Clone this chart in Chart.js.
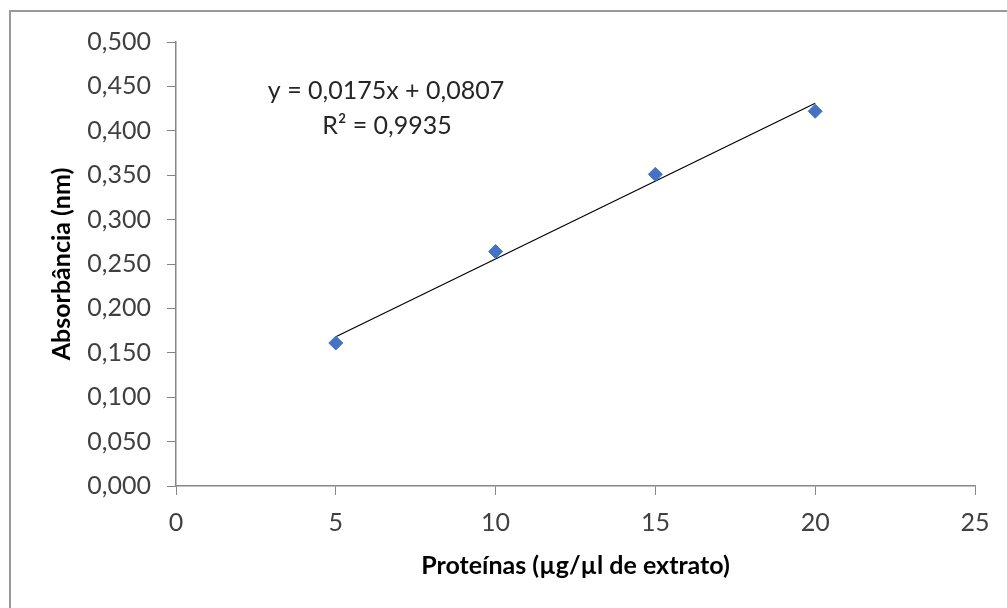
<!DOCTYPE html>
<html>
<head>
<meta charset="utf-8">
<script src="https://cdn.jsdelivr.net/npm/chart.js@4.4.0/dist/chart.umd.min.js"></script>
<style>
    body { margin: 0; background: #fff; }
    #frame { position: absolute; left: 9px; top: 10px; width: 1100px; height: 700px; border-left: 2px solid #999; border-top: 2px solid #999; }
    #wrap { position: absolute; left: 0; top: 0; width: 1007px; height: 608px; }
</style>
</head>
<body>
<div id="frame"></div>
<div id="wrap"><canvas id="chart"></canvas></div>
<script>
const proteinas = [5, 10, 15, 20];
const absorbancia = [0.161, 0.264, 0.351, 0.422];
const trendX = [5, 20];
const trendY = [0.168, 0.431];
const yTickLabels = ["0,000", "0,050", "0,100", "0,150", "0,200", "0,250", "0,300", "0,350", "0,400", "0,450", "0,500"];
const xTickLabels = ["0", "5", "10", "15", "20", "25"];
const equation = ["y = 0,0175x + 0,0807", "R² = 0,9935"];

const font = "Lato";
const axisGray = "#868686";

// equation label of the trendline
const equationLabel = {
    id: "equationLabel",
    afterDatasetsDraw(chart) {
        const ctx = chart.ctx;
        ctx.save();
        ctx.fillStyle = "#262626";
        ctx.font = "25px " + font;
        ctx.textAlign = "center";
        ctx.textBaseline = "alphabetic";
        ctx.fillText(equation[0], 386, 99);
        ctx.fillText(equation[1], 387, 134);
        ctx.restore();
    }
};

new Chart(document.getElementById("chart"), {
    type: "scatter",
    data: {
        datasets: [
            {
                label: "Absorbância",
                data: proteinas.map((x, i) => ({ x: x, y: absorbancia[i] })),
                pointStyle: "rectRot",
                pointRadius: 7,
                backgroundColor: "#4472C4",
                borderColor: "#4472C4",
                order: 1
            },
            {
                label: "Linear",
                type: "line",
                data: trendX.map((x, i) => ({ x: x, y: trendY[i] })),
                borderColor: "#000",
                borderWidth: 1.2,
                pointRadius: 0,
                order: 2
            }
        ]
    },
    options: {
        responsive: true,
        maintainAspectRatio: false,
        animation: false,
        layout: { padding: { left: 0, top: 42, right: 32, bottom: 0 } },
        plugins: { legend: { display: false }, tooltip: { enabled: false } },
        scales: {
            x: {
                type: "linear",
                min: 0,
                max: 25,
                afterFit: s => { s.height = 122; },
                grid: { drawOnChartArea: false, tickLength: 9, color: axisGray },
                border: { color: axisGray, width: 1.5 },
                ticks: {
                    stepSize: 5,
                    padding: 13,
                    color: "#404040",
                    font: { family: font, size: 25 },
                    callback: (v, i) => xTickLabels[i]
                },
                title: {
                    display: true,
                    text: "Proteínas (µg/µl de extrato)",
                    color: "#000",
                    font: { family: font, size: 25, weight: "bold" },
                    padding: { top: 4, bottom: 27 }
                }
            },
            y: {
                min: 0,
                max: 0.5,
                afterFit: s => { s.width = 176; },
                grid: { drawOnChartArea: false, tickLength: 9, color: axisGray },
                border: { color: axisGray, width: 1.5 },
                ticks: {
                    stepSize: 0.05,
                    padding: 16,
                    color: "#404040",
                    font: { family: font, size: 25 },
                    callback: (v, i) => yTickLabels[i]
                },
                title: {
                    display: true,
                    text: "Absorbância (nm)",
                    color: "#000",
                    font: { family: font, size: 25, weight: "bold" },
                    padding: { top: 47, bottom: 0 }
                }
            }
        }
    },
    plugins: [equationLabel]
});
</script>
</body>
</html>
